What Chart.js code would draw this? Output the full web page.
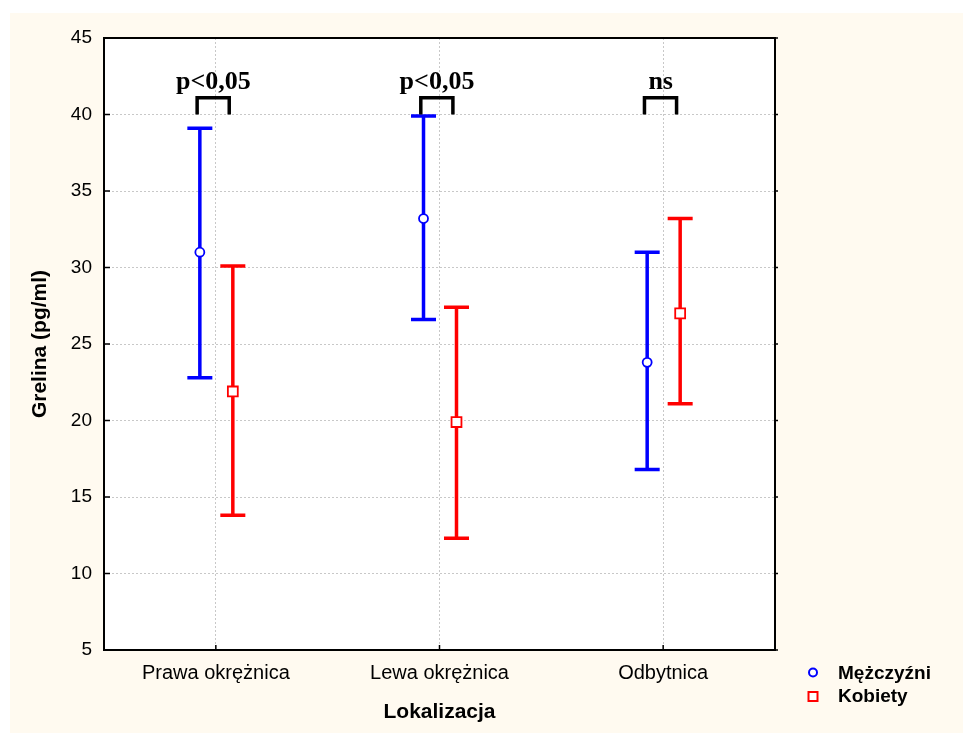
<!DOCTYPE html>
<html>
<head>
<meta charset="utf-8">
<script src="https://cdn.jsdelivr.net/npm/chart.js@4.4.0/dist/chart.umd.min.js"></script>
<style>
  html, body { margin: 0; padding: 0; background: #fff; }
</style>
</head>
<body>
<canvas id="grelinaChart" width="963" height="733"></canvas>
<script>
// data
var categories = ['Prawa okrężnica', 'Lewa okrężnica', 'Odbytnica'];
var menMean = [31.0, 33.2, 23.8];
var menLow = [22.8, 26.6, 16.8];
var menHigh = [39.1, 39.9, 31.0];
var womenMean = [21.9, 19.9, 27.0];
var womenLow = [13.8, 12.3, 21.1];
var womenHigh = [30.1, 27.4, 33.2];
var pLabels = ['p<0,05', 'p<0,05', 'ns'];
var bracketTop = 41.1;
var bracketBottom = 40.0;

var sans = "'Liberation Sans', Arial, sans-serif";
var MEN_OFF = -0.0715, WOMEN_OFF = 0.076;

function drawErrorBar(ctx, x, yTop, yBot, color) {
    ctx.strokeStyle = color;
    ctx.lineWidth = 3.5;
    ctx.beginPath();
    ctx.moveTo(x, yTop); ctx.lineTo(x, yBot);
    ctx.moveTo(x - 12.5, yTop); ctx.lineTo(x + 12.5, yTop);
    ctx.moveTo(x - 12.5, yBot); ctx.lineTo(x + 12.5, yBot);
    ctx.stroke();
}

var decor = {
    id: 'decor',
    beforeDraw: function(chart) {
        var ctx = chart.ctx, a = chart.chartArea;
        ctx.save();
        ctx.fillStyle = '#ffffff';
        ctx.fillRect(0, 0, chart.width, chart.height);
        ctx.fillStyle = '#FFFAF0';
        ctx.fillRect(10, 13, chart.width - 10, chart.height - 13);
        ctx.fillStyle = '#ffffff';
        ctx.fillRect(a.left, a.top, a.right - a.left, a.bottom - a.top);
        ctx.restore();
    },
    beforeDatasetsDraw: function(chart) {
        var ctx = chart.ctx, xs = chart.scales.x, ys = chart.scales.y;
        ctx.save();
        categories.forEach(function(c, i) {
            drawErrorBar(ctx, xs.getPixelForValue(i + MEN_OFF), ys.getPixelForValue(menHigh[i]), ys.getPixelForValue(menLow[i]), '#0000ff');
            drawErrorBar(ctx, xs.getPixelForValue(i + WOMEN_OFF), ys.getPixelForValue(womenHigh[i]), ys.getPixelForValue(womenLow[i]), '#ff0000');
        });
        ctx.restore();
    },
    afterDraw: function(chart) {
        var ctx = chart.ctx, a = chart.chartArea, xs = chart.scales.x, ys = chart.scales.y;
        ctx.save();
        // frame
        ctx.strokeStyle = '#000';
        ctx.lineWidth = 2;
        ctx.strokeRect(a.left, a.top, a.right - a.left, a.bottom - a.top);
        // small ticks
        ctx.lineWidth = 1.5;
        ctx.beginPath();
        ys.ticks.forEach(function(t) {
            var y = ys.getPixelForValue(t.value);
            ctx.moveTo(a.left, y); ctx.lineTo(a.left + 6, y);
            ctx.moveTo(a.right, y); ctx.lineTo(a.right + 3, y);
        });
        xs.ticks.forEach(function(t) {
            var x = xs.getPixelForValue(t.value);
            ctx.moveTo(x, a.bottom); ctx.lineTo(x, a.bottom - 5);
        });
        ctx.stroke();
        // significance brackets
        ctx.lineWidth = 3.5;
        ctx.lineJoin = 'miter';
        ctx.fillStyle = '#000';
        ctx.font = "bold 26px 'Liberation Serif', 'Times New Roman', serif";
        ctx.textAlign = 'center';
        ctx.textBaseline = 'alphabetic';
        var yt = ys.getPixelForValue(bracketTop), yb = ys.getPixelForValue(bracketBottom);
        pLabels.forEach(function(lbl, i) {
            var c = xs.getPixelForValue(i);
            ctx.beginPath();
            ctx.moveTo(c - 18.7, yb);
            ctx.lineTo(c - 18.7, yt);
            ctx.lineTo(c + 13.4, yt);
            ctx.lineTo(c + 13.4, yb);
            ctx.stroke();
            ctx.fillText(lbl, c - 2.5, yt - 8.5);
        });
        // legend
        ctx.lineWidth = 2;
        ctx.strokeStyle = '#0000ff';
        ctx.fillStyle = '#fff';
        ctx.beginPath();
        ctx.arc(813, 672.5, 4, 0, Math.PI * 2);
        ctx.fill(); ctx.stroke();
        ctx.strokeStyle = '#ff0000';
        ctx.fillRect(808.5, 692, 9, 9);
        ctx.strokeRect(808.5, 692, 9, 9);
        ctx.fillStyle = '#000';
        ctx.font = 'bold 19px ' + sans;
        ctx.textAlign = 'left';
        ctx.fillText('Mężczyźni', 838, 679);
        ctx.fillText('Kobiety', 838, 702);
        ctx.restore();
    }
};

new Chart(document.getElementById('grelinaChart'), {
    type: 'scatter',
    data: {
        datasets: [{
            label: 'Mężczyźni',
            data: menMean.map(function(v, i) { return { x: i + MEN_OFF, y: v }; }),
            pointStyle: 'circle',
            pointRadius: 4.5,
            pointBorderWidth: 1.8,
            borderColor: '#0000ff',
            backgroundColor: '#ffffff'
        }, {
            label: 'Kobiety',
            data: womenMean.map(function(v, i) { return { x: i + WOMEN_OFF, y: v }; }),
            pointStyle: 'rect',
            pointRadius: 7,
            pointBorderWidth: 1.8,
            borderColor: '#ff0000',
            backgroundColor: '#ffffff'
        }]
    },
    options: {
        responsive: false,
        devicePixelRatio: 1,
        animation: false,
        layout: { padding: { left: 10, top: 38, right: 188, bottom: 0 } },
        plugins: {
            legend: { display: false },
            tooltip: { enabled: false }
        },
        scales: {
            x: {
                type: 'linear',
                min: -0.5,
                max: 2.5,
                afterBuildTicks: function(scale) {
                    scale.ticks = categories.map(function(c, i) { return { value: i }; });
                },
                afterFit: function(scale) { scale.height = 83; },
                ticks: {
                    padding: 11,
                    color: '#000',
                    font: { family: sans, size: 20 },
                    maxRotation: 0,
                    callback: function(v) { return categories[v] || ''; }
                },
                grid: { color: '#c8c8c8', lineWidth: 1, drawTicks: false },
                border: { display: false, dash: [2, 2] },
                title: {
                    display: true,
                    text: 'Lokalizacja',
                    color: '#000',
                    font: { family: sans, size: 21, weight: 'bold' },
                    padding: { top: 0, bottom: 8 }
                }
            },
            y: {
                min: 5,
                max: 45,
                afterFit: function(scale) { scale.width = 94; },
                ticks: {
                    stepSize: 5,
                    padding: 12,
                    color: '#000',
                    font: { family: sans, size: 19 }
                },
                grid: { color: '#c8c8c8', lineWidth: 1, drawTicks: false },
                border: { display: false, dash: [2, 2] },
                title: {
                    display: true,
                    text: 'Grelina (pg/ml)',
                    color: '#000',
                    font: { family: sans, size: 21, weight: 'bold' },
                    padding: { top: 18, bottom: 0 }
                }
            }
        }
    },
    plugins: [decor]
});
</script>
</body>
</html>
